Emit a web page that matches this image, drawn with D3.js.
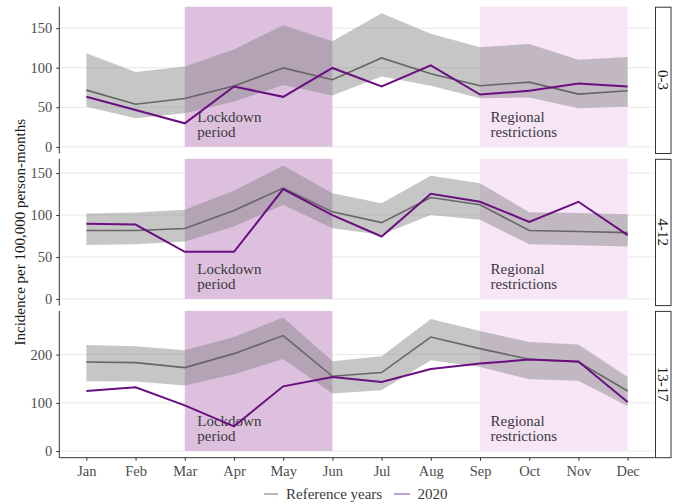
<!DOCTYPE html>
<html>
<head>
<meta charset="utf-8">
<script src="https://cdn.jsdelivr.net/npm/d3@7/dist/d3.min.js"></script>
<style>
  html, body { margin: 0; padding: 0; background: #fff; }
  svg { display: block; font-family: "Liberation Serif", "Times New Roman", serif; }
</style>
</head>
<body>
<svg id="chart" width="678" height="504"></svg>
<script>
// Months on the x axis
const months = ["Jan","Feb","Mar","Apr","May","Jun","Jul","Aug","Sep","Oct","Nov","Dec"];

// Age groups (one facet row each)
const ageGroups = ["0-3", "4-12", "13-17"];

// Reference years: mean incidence and its range band, per age group
const refMean_0_3   = [71.7, 53.9, 61.0, 77.0, 99.7, 84.8, 112.4, 92.4, 77.2, 81.8, 66.6, 70.8];
const refLower_0_3  = [50.8, 36.1, 42.5, 57.2, 78.0, 64.8, 89.0, 77.2, 61.5, 62.3, 48.8, 50.8];
const refUpper_0_3  = [118.2, 94.6, 101.7, 123.0, 153.8, 133.5, 168.7, 142.9, 125.9, 130.1, 110.2, 113.6];
const y2020_0_3     = [63.2, 46.6, 29.7, 76.3, 63.2, 99.7, 76.3, 103.0, 66.1, 70.8, 80.0, 76.3];

const refMean_4_12  = [81.5, 81.5, 83.9, 105.4, 132.1, 103.8, 91.0, 120.9, 112.2, 81.5, 80.3, 79.1];
const refLower_4_12 = [64.4, 65.3, 68.4, 86.3, 112.2, 84.4, 76.4, 100.2, 94.3, 65.3, 64.1, 62.4];
const refUpper_4_12 = [101.8, 103.0, 106.2, 128.9, 159.1, 126.0, 114.2, 146.8, 138.0, 103.4, 102.3, 101.0];
const y2020_4_12    = [89.5, 88.7, 56.1, 56.1, 130.9, 100.0, 74.4, 125.3, 115.8, 91.9, 115.8, 76.0];

const refMean_13_17  = [184.6, 183.4, 173.0, 202.0, 239.4, 155.0, 162.7, 236.5, 212.4, 190.2, 184.6, 124.5];
const refLower_13_17 = [144.6, 144.0, 135.7, 159.1, 190.9, 119.1, 125.9, 188.2, 174.3, 148.8, 146.0, 92.7];
const refUpper_13_17 = [219.9, 217.2, 208.9, 236.5, 276.8, 186.1, 196.5, 273.9, 249.0, 226.1, 220.7, 153.5];
const y2020_13_17    = [124.5, 132.2, 94.8, 51.2, 134.2, 153.5, 143.2, 170.1, 181.3, 189.6, 185.5, 101.7];

// Y tick labels per facet
const yTicks_0_3   = [0, 50, 100, 150];
const yTicks_4_12  = [0, 50, 100, 150];
const yTicks_13_17 = [0, 100, 200];

// Restriction periods (month indices, 1-based)
const lockdown = [3, 6];
const regional = [9, 12];
const lockdownLabel = ["Lockdown", "period"];
const regionalLabel = ["Regional", "restrictions"];

const legendLabels = ["Reference years", "2020"];
const yTitle = "Incidence per 100,000 person-months";

const facets = [
  { label: ageGroups[0], mean: refMean_0_3,   lower: refLower_0_3,   upper: refUpper_0_3,   cur: y2020_0_3,   ticks: yTicks_0_3 },
  { label: ageGroups[1], mean: refMean_4_12,  lower: refLower_4_12,  upper: refUpper_4_12,  cur: y2020_4_12,  ticks: yTicks_4_12 },
  { label: ageGroups[2], mean: refMean_13_17, lower: refLower_13_17, upper: refUpper_13_17, cur: y2020_13_17, ticks: yTicks_13_17 }
];

// Layout
const plotLeft = 59.3, plotRight = 654.7;
const panelTop0 = 6.7, panelH = 146.8, panelGap = 5.3;
const stripX = 655.5, stripW = 15.5;

const colRef = "#666666", colCur = "#6a0f80";
const textCol = "#3a3a3a", tickCol = "#4d4d4d";

const svg = d3.select("#chart");

const x = d3.scaleLinear().domain([0.45, 12.55]).range([plotLeft, plotRight]);

facets.forEach((f, i) => {
  const top = panelTop0 + i * (panelH + panelGap);
  const bottom = top + panelH;
  const allVals = f.upper.concat(f.mean, f.cur, [0]);
  const maxV = d3.max(allVals), minV = 0;
  const pad = (maxV - minV) * 0.05;
  const y = d3.scaleLinear().domain([minV - pad, maxV + pad]).range([bottom, top]);

  const g = svg.append("g");

  // horizontal grid
  g.selectAll("line.grid").data(f.ticks).join("line")
    .attr("x1", plotLeft).attr("x2", plotRight)
    .attr("y1", d => y(d)).attr("y2", d => y(d))
    .attr("stroke", "#e8e8e8").attr("stroke-width", 1);

  // restriction periods
  g.append("rect")
    .attr("x", x(lockdown[0])).attr("width", x(lockdown[1]) - x(lockdown[0]))
    .attr("y", top).attr("height", y(0) - top)
    .attr("fill", "#dcc0de");
  g.append("rect")
    .attr("x", x(regional[0])).attr("width", x(regional[1]) - x(regional[0]))
    .attr("y", top).attr("height", y(0) - top)
    .attr("fill", "#f8e5f8");

  // range band of reference years
  const idx = d3.range(12);
  const area = d3.area().x(d => x(d + 1)).y0(d => y(f.lower[d])).y1(d => y(f.upper[d]));
  g.append("path").datum(idx).attr("d", area)
    .attr("fill", "rgba(128,128,128,0.45)");

  // annotations
  const ann = (lines, m, dx) => {
    const t = g.append("text").attr("fill", textCol).attr("font-size", 15);
    lines.forEach((s, k) => {
      t.append("tspan").attr("x", x(m) + dx)
        .attr("y", y(0) - 10 - (lines.length - 1 - k) * 15).text(s);
    });
  };
  ann(lockdownLabel, lockdown[0], 12.5);
  ann(regionalLabel, regional[0], 10.5);

  // lines
  const line = arr => d3.line().x(d => x(d + 1)).y(d => y(arr[d]))(idx);
  g.append("path").attr("d", line(f.mean)).attr("fill", "none")
    .attr("stroke", colRef).attr("stroke-width", 1.6);
  g.append("path").attr("d", line(f.cur)).attr("fill", "none")
    .attr("stroke", colCur).attr("stroke-width", 2);

  // y axis
  const ya = g.append("g").attr("transform", `translate(${plotLeft},0)`)
    .call(d3.axisLeft(y).tickValues(f.ticks).tickSize(3).tickPadding(4).tickSizeOuter(0));
  ya.select(".domain").attr("stroke", "#333").attr("d", `M0,${top}V${bottom}`);
  ya.selectAll(".tick line").attr("stroke", "#333");
  ya.selectAll(".tick text").attr("fill", tickCol)
    .attr("font-size", 14.5).attr("font-family", "Liberation Serif");

  // x axis on the bottom panel only
  if (i === facets.length - 1) {
    const xa = g.append("g").attr("transform", `translate(0,${bottom})`)
      .call(d3.axisBottom(x).tickValues(d3.range(1, 13)).tickFormat(d => months[d - 1])
        .tickSize(3).tickPadding(5).tickSizeOuter(0));
    xa.select(".domain").attr("stroke", "#333").attr("d", `M${plotLeft},0H${plotRight}`);
    xa.selectAll(".tick line").attr("stroke", "#333");
    xa.selectAll(".tick text").attr("fill", tickCol)
      .attr("font-size", 14.5).attr("font-family", "Liberation Serif");
  }

  // strip
  g.append("rect").attr("x", stripX).attr("y", top + 0.5)
    .attr("width", stripW).attr("height", panelH - 0.5)
    .attr("fill", "#fff").attr("stroke", "#333").attr("stroke-width", 1);
  g.append("text")
    .attr("transform", `translate(${stripX + stripW / 2},${top + panelH / 2}) rotate(90)`)
    .attr("text-anchor", "middle").attr("dy", "0.35em")
    .attr("font-size", 15).attr("fill", "#1a1a1a").text(f.label);
});

// y axis title
svg.append("text")
  .attr("transform", `translate(20,${panelTop0 + (3 * panelH + 2 * panelGap) / 2}) rotate(-90)`)
  .attr("text-anchor", "middle").attr("dy", "0.35em")
  .attr("font-size", 15).attr("fill", "#1a1a1a").text(yTitle);

// legend
const leg = svg.append("g");
const legY = 494;
leg.append("line").attr("x1", 264).attr("x2", 278).attr("y1", legY).attr("y2", legY)
  .attr("stroke", "#8a8a8a").attr("stroke-width", 1.2);
leg.append("text").attr("x", 286).attr("y", legY).attr("dy", "0.35em")
  .attr("font-size", 15).attr("fill", textCol).text(legendLabels[0]);
leg.append("line").attr("x1", 394).attr("x2", 410).attr("y1", legY).attr("y2", legY)
  .attr("stroke", "#a77bb8").attr("stroke-width", 1.4);
leg.append("text").attr("x", 417.5).attr("y", legY).attr("dy", "0.35em")
  .attr("font-size", 15).attr("fill", textCol).text(legendLabels[1]);
</script>
</body>
</html>
